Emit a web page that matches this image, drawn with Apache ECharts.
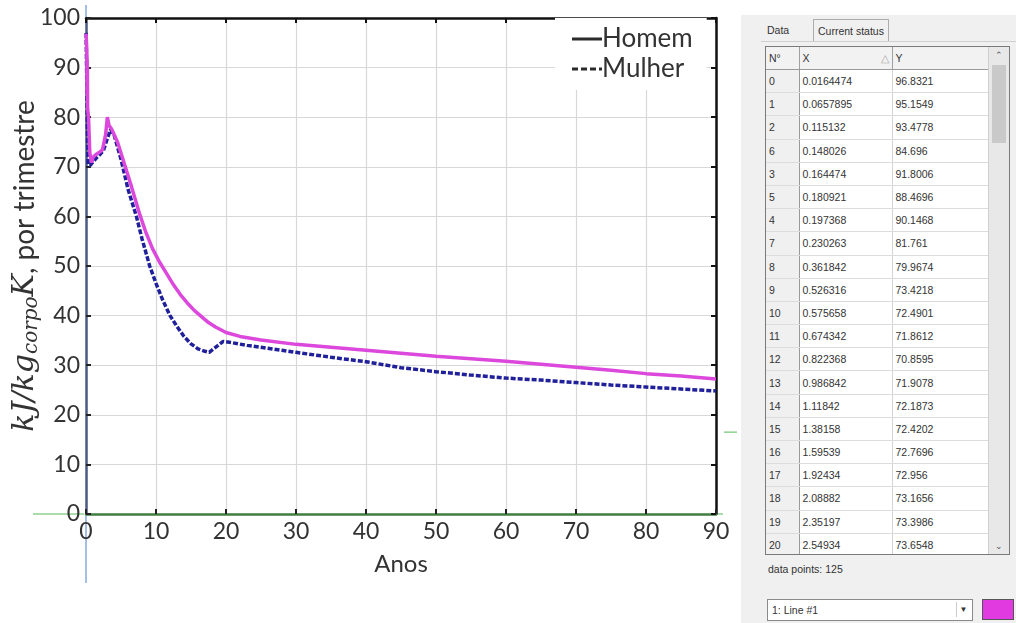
<!DOCTYPE html>
<html>
<head>
<meta charset="utf-8">
<script src="https://cdn.jsdelivr.net/npm/echarts@6/dist/echarts.min.js"></script>
<style>
  html, body { margin: 0; padding: 0; background: #fff; }
  #wrap { position: relative; width: 1016px; height: 623px; overflow: hidden; }
  #chart { position: absolute; left: 0; top: 0; width: 1016px; height: 623px; }
  #panel { position: absolute; left: 741px; top: 15px; width: 275px; height: 608px; background: #f0f0f0;
           font-family: "Liberation Sans", sans-serif; font-size: 10.5px; color: #333; }
  .tab { position: absolute; top: 4px; height: 22px; line-height: 22px; font-size: 10.5px; }
  #tabData { left: 26px; }
  #tabStatus { left: 72px; padding: 0 4px; border: 1px solid #adadad; border-bottom: none; background: #f0f0f0; }
  #content { position: absolute; left: 20px; top: 26px; width: 255px; height: 515px; border-top: 1px solid #d0d0d0; }
  #tbl { position: absolute; left: 4px; top: 4px; width: 243px; height: 507px; border: 1.5px solid #7a7a7a; background: #fff; overflow: hidden; }
  table { border-collapse: collapse; table-layout: fixed; position: absolute; left: 0; top: 0; }
  td { height: 22.2px; padding: 0 0 0 3px; border-right: 1px solid #d4d4d4; border-bottom: 1px solid #dcdcdc; white-space: nowrap; overflow: hidden; }
  tr.head td { height: 22px; background: #f2f2f2; border-bottom: 1.5px solid #9a9a9a; border-right: 1px solid #a0a0a0; }
  td.n { background: #f0f0f0; border-right: 1.5px solid #9a9a9a; }
  #scroll { position: absolute; right: 0; top: 0; width: 20px; height: 100%; background: #e8e8e8; border-left: 1px solid #cfcfcf; }
  #thumb { position: absolute; left: 3px; top: 18px; width: 14px; height: 78px; background: #c9c9c9; }
  .arrow { position: absolute; left: 0; width: 20px; text-align: center; font-size: 9px; color: #555; }
  #count { position: absolute; left: 27px; top: 548px; font-size: 10.5px; }
  #combo { position: absolute; left: 26px; top: 584px; width: 204px; height: 20px; background: #fff; border: 1px solid #8a8a8a; line-height: 20px; }
  #combo span { padding-left: 4px; }
  #combo .drop { position: absolute; right: 2px; top: 2px; width: 13px; height: 15px; line-height: 15px; text-align: center; font-size: 8px; border-left: 1px solid #ccc; }
  #swatch { position: absolute; left: 241px; top: 584px; width: 30px; height: 19px; background: #e03ae0; border: 1px solid #555; }
</style>
</head>
<body>
<div id="wrap">
  <div id="chart"></div>
  <div id="panel">
    <div class="tab" id="tabData">Data</div>
    <div class="tab" id="tabStatus">Current status</div>
    <div id="content">
      <div id="tbl">
        <table id="points"></table>
        <div id="scroll">
          <div class="arrow" style="top:3px;">&#8963;</div>
          <div id="thumb"></div>
          <div class="arrow" style="bottom:3px;">&#8964;</div>
        </div>
      </div>
    </div>
    <div id="count">data points: 125</div>
    <div id="combo"><span>1: Line #1</span><div class="drop">&#9660;</div></div>
    <div id="swatch"></div>
  </div>
</div>
<script>
// Axis ranges and ticks
const xTicks = [0, 10, 20, 30, 40, 50, 60, 70, 80, 90];
const yTicks = [0, 10, 20, 30, 40, 50, 60, 70, 80, 90, 100];

const homemX = [0.0164474, 0.0657895, 0.115132, 0.148026, 0.164474, 0.180921, 0.197368, 0.230263,
  0.361842, 0.526316, 0.575658, 0.674342, 0.822368, 0.986842, 1.11842, 1.38158, 1.59539, 1.92434,
  2.08882, 2.35197, 2.54934,
  2.8, 3.05, 3.3, 3.7, 4.5, 5.5, 6.5, 7.0, 7.7, 8.5, 9.5, 10.5, 11.5, 12.5, 13.5, 14.5, 15.5, 16.5,
  17.5, 18.5, 20, 22, 25, 30, 35, 40, 45, 50, 55, 60, 65, 70, 75, 80, 85, 90];
const homemY = [96.8321, 95.1549, 93.4778, 84.696, 91.8006, 88.4696, 90.1468, 81.761,
  79.9674, 73.4218, 72.4901, 71.8612, 70.8595, 71.9078, 72.1873, 72.4202, 72.7696, 72.956,
  73.1656, 73.3986, 73.6548,
  76.5, 80.0, 78.3, 77.5, 75.0, 70.5, 66.0, 63.6, 60.3, 57.0, 53.5, 50.8, 48.5, 46.2, 44.2, 42.5, 41.0, 39.8,
  38.6, 37.7, 36.6, 35.8, 35.1, 34.2, 33.6, 33.0, 32.4, 31.8, 31.3, 30.8, 30.2, 29.6, 29.0, 28.3, 27.8, 27.2];

// Order in which the table rows were captured
const pointNo = [0, 1, 2, 6, 3, 5, 4, 7, 8, 9, 10, 11, 12, 13, 14, 15, 16, 17, 18, 19, 20];

// Mulher
const mulherX = [0.02, 0.1, 0.2, 0.3, 0.6, 1.0, 1.5, 2.0, 2.5, 3.0, 3.5, 4.0, 5.0, 6.0, 7.2, 8.0, 9.1,
  10, 11, 12, 13, 14, 15, 16, 17, 17.6, 18.5, 19.6, 21, 23, 25, 28, 30, 35, 40, 45, 50, 55, 60, 65,
  70, 75, 80, 85, 90];
const mulherY = [97, 88, 78, 70.5, 70.3, 71.0, 71.8, 72.5, 73.3, 75.5, 77.5, 76.5, 71.5, 65.5, 60, 55.5, 50,
  46.5, 43, 40, 37.8, 35.8, 34.3, 33.3, 32.8, 32.6, 33.6, 34.8, 34.5, 34.0, 33.6, 33.0, 32.6, 31.6, 30.7,
  29.5, 28.7, 28.0, 27.4, 27.0, 26.5, 26.0, 25.6, 25.2, 24.8];

// Data table
const tableRows = pointNo.length;
const tbl = document.getElementById('points');
let html = '<colgroup><col style="width:33px"><col style="width:93px"><col style="width:96px"></colgroup>';
html += '<tr class="head"><td class="n">N°</td><td>X<span style="float:right;color:#aaa;padding-right:3px;">&#9651;</span></td><td>Y</td></tr>';
for (let i = 0; i < tableRows; i++) {
  html += '<tr><td class="n">' + pointNo[i] + '</td><td>' + homemX[i] + '</td><td>' + homemY[i] + '</td></tr>';
}
tbl.innerHTML = html;

const zip = (xs, ys) => xs.map((x, i) => [x, ys[i]]);

const chart = echarts.init(document.getElementById('chart'), null, { renderer: 'canvas' });
const labelFont = 'Lato';
const dashIcon = 'path://M0,0h6v3h-6z M9,0h6v3h-6z M18,0h6v3h-6z M27,0h3v3h-3z';

const option = {
  backgroundColor: '#fff',
  animation: false,
  grid: { left: 86, right: 300, top: 18, bottom: 109, containLabel: false, outerBoundsMode: 'none' },
  legend: {
    left: 555, top: 18,
    orient: 'vertical',
    backgroundColor: '#fff',
    padding: [8, 14, 8, 17],
    itemGap: 4,
    itemWidth: 30,
    itemHeight: 3,
    textStyle: { fontFamily: labelFont, fontSize: 26, color: '#333', padding: [0, 0, 0, -5] },
    data: [
      { name: 'Homem', icon: 'rect', itemStyle: { color: '#2a2a2a' } },
      { name: 'Mulher', icon: dashIcon, itemStyle: { color: '#2a2a2a' } }
    ]
  },
  xAxis: [{
    type: 'value', min: xTicks[0], max: xTicks[xTicks.length - 1], interval: 10,
    name: 'Anos', nameLocation: 'middle', nameGap: 38, nameMoveOverlap: false,
    nameTextStyle: { fontFamily: labelFont, fontSize: 24, color: '#333' },
    axisLine: { show: true, onZero: false, lineStyle: { color: '#3f7f42', width: 2.5 } },
    axisTick: { show: true, inside: true, length: 5, lineStyle: { color: '#222', width: 2 } },
    axisLabel: { fontFamily: labelFont, fontSize: 23, color: '#333', margin: 6 },
    splitLine: { lineStyle: { color: '#d8d8d8', width: 1.2 } }
  }, {
    type: 'value', position: 'top', min: xTicks[0], max: xTicks[xTicks.length - 1], interval: 10,
    axisLine: { show: true, onZero: false, lineStyle: { color: '#111', width: 2.5 } },
    axisTick: { show: true, inside: true, length: 5, lineStyle: { color: '#111', width: 2 } },
    axisLabel: { show: false }, splitLine: { show: false }
  }],
  yAxis: [{
    type: 'value', min: yTicks[0], max: yTicks[yTicks.length - 1], interval: 10,
    name: '{m|kJ/kg}{s|corpo}{m|K}{t|, por trimestre}',
    nameLocation: 'middle', nameGap: 44, nameMoveOverlap: false,
    nameTextStyle: {
      rich: {
        m: { fontFamily: 'DejaVu Serif', fontStyle: 'italic', fontSize: 30, color: '#333' },
        s: { fontFamily: 'DejaVu Serif', fontStyle: 'italic', fontSize: 20, color: '#333', padding: [14, 0, 0, 0] },
        t: { fontFamily: labelFont, fontSize: 28, color: '#333' }
      }
    },
    axisLine: { show: true, onZero: false, lineStyle: { color: '#4a5a80', width: 2.5 } },
    axisTick: { show: true, inside: true, length: 5, lineStyle: { color: '#222', width: 2 } },
    axisLabel: { fontFamily: labelFont, fontSize: 23, color: '#333', margin: 6 },
    splitLine: { lineStyle: { color: '#d8d8d8', width: 1.2 } }
  }, {
    type: 'value', position: 'right', min: yTicks[0], max: yTicks[yTicks.length - 1], interval: 10,
    axisLine: { show: true, onZero: false, lineStyle: { color: '#111', width: 2.5 } },
    axisTick: { show: true, inside: true, length: 5, lineStyle: { color: '#111', width: 2 } },
    axisLabel: { show: false }, splitLine: { show: false }
  }],
  series: [{
    name: 'Mulher', type: 'line', xAxisIndex: 0, yAxisIndex: 0,
    data: zip(mulherX, mulherY), symbol: 'none', z: 3,
    lineStyle: { color: '#20209a', width: 3.5, type: [5, 2] }
  }, {
    name: 'Homem', type: 'line', xAxisIndex: 0, yAxisIndex: 0,
    data: zip(homemX, homemY), symbol: 'none', z: 4,
    lineStyle: { color: '#dc48dc', width: 3.5 }
  }]
};
chart.setOption(option);

// Guide lines that continue the axes beyond the plot edges
const o = chart.convertToPixel({ xAxisIndex: 0, yAxisIndex: 0 }, [0, 0]);
const e = chart.convertToPixel({ xAxisIndex: 0, yAxisIndex: 0 }, [90, 100]);
const g = chart.convertToPixel({ xAxisIndex: 0, yAxisIndex: 0 }, [90, 16.5]);
const guide = (x1, y1, x2, y2, c) => ({ type: 'line', shape: { x1, y1, x2, y2 }, style: { stroke: c, lineWidth: 1.5 } });
chart.setOption({
  graphic: [
    guide(o[0], e[1] - 13, o[0], e[1] - 1, '#86a8dc'),
    guide(o[0], o[1] + 2, o[0], o[1] + 69, '#86a8dc'),
    guide(o[0] - 53, o[1], o[0] - 2, o[1], '#8fd08f'),
    guide(e[0] + 2, o[1], e[0] + 7, o[1], '#8fd08f'),
    guide(g[0] + 8, g[1], g[0] + 21, g[1], '#8fd08f')
  ]
});
</script>
</body>
</html>
